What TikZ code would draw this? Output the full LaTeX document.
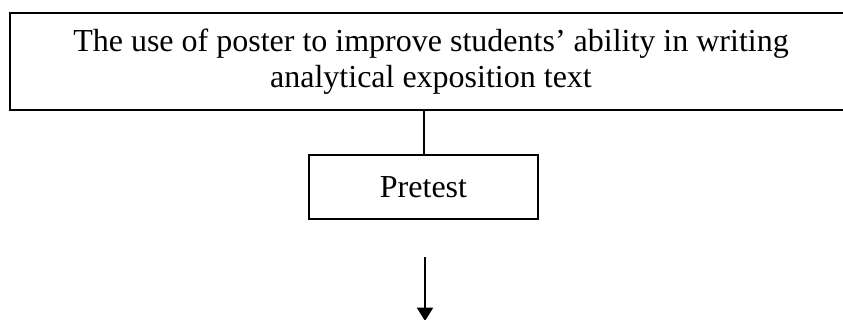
\documentclass[tikz,border=0pt]{standalone}
\usepackage{fontspec}
\setmainfont{Liberation Serif}
\usepackage{tikz}
\usetikzlibrary{arrows.meta}
\usetikzlibrary{positioning}

\tikzset{
  stagebox/.style={draw, line width=1.5pt, align=center, inner sep=0pt,
    font=\fontsize{24}{27}\selectfont},
  flowline/.style={line width=1.5pt},
}

\begin{document}
\begin{tikzpicture}[x=0.75pt, y=-0.75pt]
            \clip (0, 0) rectangle (843, 320);
            \useasboundingbox (0, 0) rectangle (843, 320);

            \node[stagebox, minimum width=631.5pt, minimum height=72.75pt] (topic) at (431, 61.5)
              {The use of poster to improve students’ ability in writing\\analytical exposition text};
            \node[stagebox, minimum width=171.75pt, minimum height=48pt] (pretest) at (423.5, 187) {Pretest};

            \coordinate (arrstart) at (425, 257);
            \coordinate (arrend) at (425, 321);

            \draw[flowline] (pretest.north) -- (pretest.north |- topic.south);
            \draw[flowline, -{Triangle[width=12pt, length=10pt]}] (arrstart) -- (arrend);
\end{tikzpicture}
\end{document}
